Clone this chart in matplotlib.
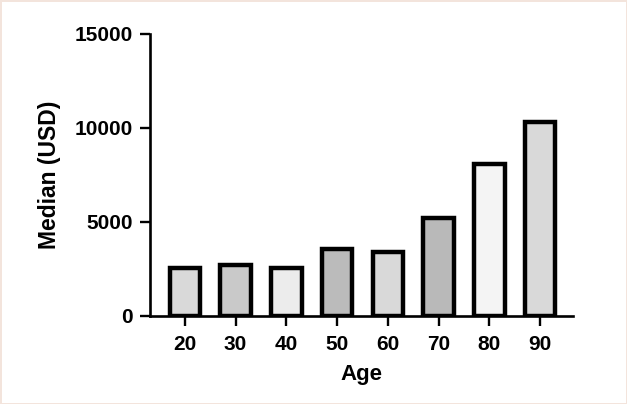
import matplotlib

matplotlib.use("Agg")

import matplotlib.pyplot as plt
import numpy as np

plt.rcParams["font.family"] = ["Liberation Sans", "DejaVu Sans"]
plt.rcParams["font.weight"] = "bold"

ages = ["20", "30", "40", "50", "60", "70", "80", "90"]
median_usd = [2550, 2700, 2550, 3550, 3400, 5200, 8100, 10300]
bar_colors = ["#d9d9d9", "#c9c9c9", "#ececec", "#bbbbbb",
              "#d9d9d9", "#b9b9b9", "#f4f4f4", "#d9d9d9"]

fig = plt.figure(figsize=(6.27, 4.04), dpi=100)
fig.patch.set_edgecolor("#f3e4dc")
fig.patch.set_linewidth(2)
ax = fig.add_axes([0.239, 0.218, 0.675, 0.698])

x = np.arange(len(ages))
ax.bar(x, median_usd, width=0.6, color=bar_colors, edgecolor="black",
       linewidth=3.2, zorder=2)

ax.set_xlim(-0.69, 7.65)
ax.set_ylim(0, 15000)
ax.set_yticks([0, 5000, 10000, 15000])
ax.set_xticks(x)
ax.set_xticklabels(ages)

for s in ["top", "right"]:
    ax.spines[s].set_visible(False)
for s in ["left", "bottom"]:
    ax.spines[s].set_linewidth(1.9)

ax.tick_params(axis="both", length=7, width=1.7, labelsize=15)
ax.tick_params(axis="x", pad=7)
ax.tick_params(axis="y", pad=5)
ax.set_xlabel("Age", fontsize=16, fontweight="bold", labelpad=7)
ax.set_ylabel("Median (USD)", fontsize=16.5, fontweight="bold", labelpad=10)

fig.savefig("out.png", dpi=100)
